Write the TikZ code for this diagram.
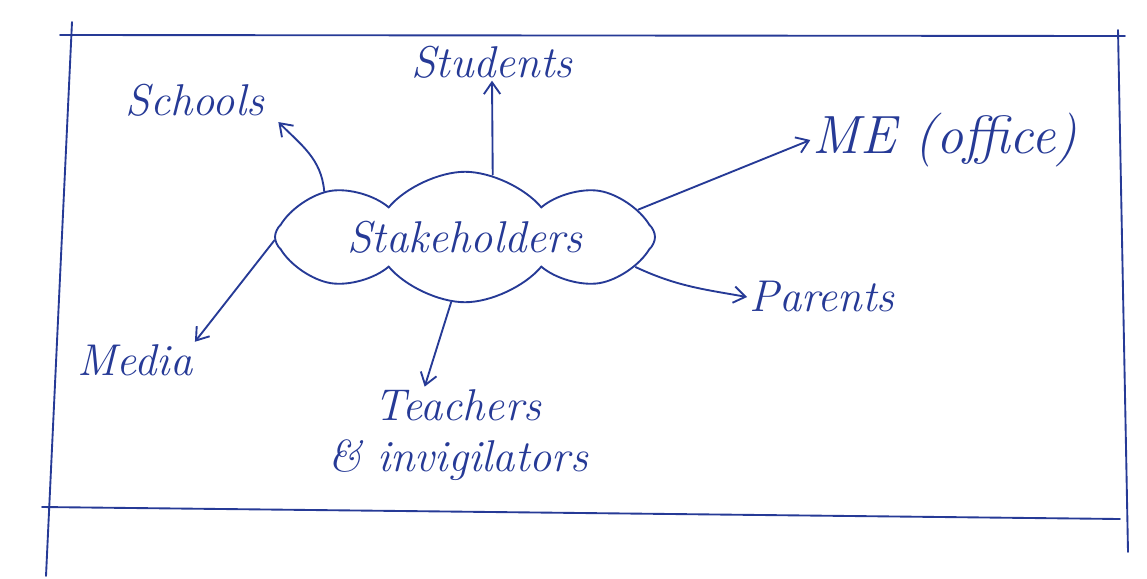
\documentclass[tikz,border=0pt]{standalone}
\usetikzlibrary{shapes.symbols,arrows.meta}
\definecolor{ink}{RGB}{38,58,150}
\begin{document}
\begin{tikzpicture}[x=0.03cm,y=-0.03cm,
  ink line/.style={draw=ink,line width=1.6pt,line cap=round},
  link/.style={ink line,-{Straight Barb[length=10pt,width=14pt,line width=1.6pt]}},
  label/.style={text=ink,font=\fontsize{38}{44}\selectfont\itshape,inner sep=2pt},
  cloudbox/.style={cloud,draw=ink,line width=1.6pt,cloud puffs=8,cloud puff arc=100,aspect=4.6,minimum width=380*0.03cm,minimum height=92*0.03cm,text=ink,font=\fontsize{38}{44}\selectfont\itshape}]
\useasboundingbox (0,0) rectangle (1147,578);
% frame
\draw[ink line] (60,35) -- (1125,36);
\draw[ink line] (72,22) -- (46,576);
\draw[ink line] (42,507) -- (1120,519);
\draw[ink line] (1118,30) -- (1128,552);
% nodes
\node[cloudbox] (st) at (465,237) {Stakeholders};
\node[label] (sc) at (195,100) {Schools};
\node[label] (su) at (492,62) {Students};
\node[label,font=\fontsize{46}{52}\selectfont\itshape] (me) at (945,140) {ME (office)};
\node[label] (pa) at (822,297) {Parents};
\node[label] (mdl) at (135,360) {Media};
\node[label,align=center] (te) at (458,435) {Teachers\\\& invigilators};
% connectors
\draw[link] (st.162) to[out=95,in=-45] ([xshift=2.5cm,yshift=-0.1cm]sc.south);
\draw[link] (st.66) -- (su.south);
\draw[link] (st.9) -- (me.west);
\draw[link] (st.-10) to[out=-25,in=170] (pa.west);
\draw[link] (st.181) -- (mdl.north east);
\draw[link] (st.-102) -- ([xshift=-1cm]te.north);
\end{tikzpicture}
\end{document}
